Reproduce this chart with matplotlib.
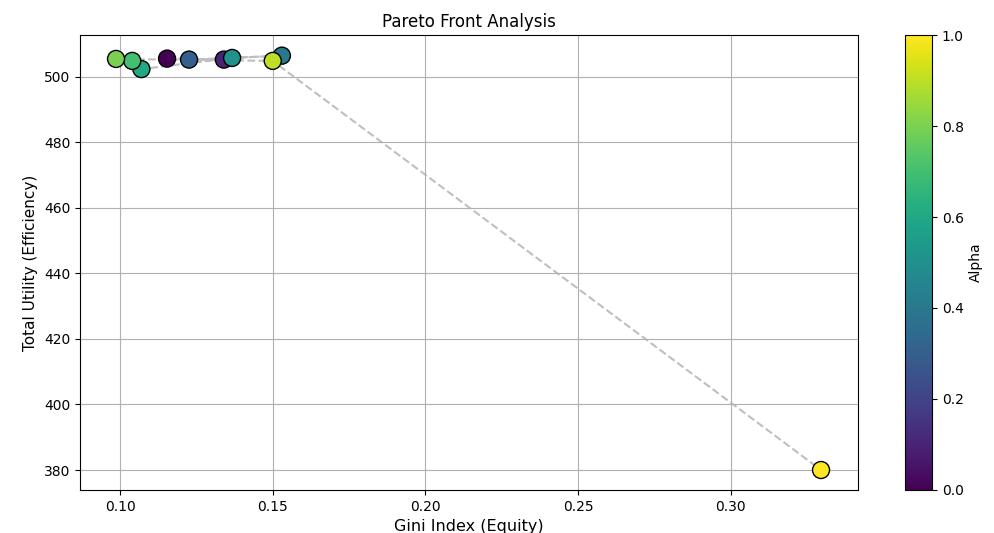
import matplotlib
matplotlib.use("Agg")
from matplotlib import pyplot as plt
import numpy as np

# values, ordered by alpha
alphas = [0.0, 0.1, 0.3, 0.4, 0.5, 0.6, 0.7, 0.8, 0.9, 1.0]
gini = [0.1154, 0.1340, 0.1226, 0.1530, 0.1367, 0.1070, 0.1040, 0.0987, 0.1500, 0.3295]
utility = [505.6, 505.3, 505.3, 506.5, 505.8, 502.4, 504.9, 505.5, 504.9, 380.0]

fig = plt.figure(figsize=(9.95, 5.33), dpi=100)
ax = fig.add_axes([0.0804, 0.0807, 0.7819, 0.8536])
cax = fig.add_axes([0.9095, 0.0807, 0.0272, 0.8536])

ax.plot(gini, utility, "--", color="gray", alpha=0.5, zorder=1)
sc = ax.scatter(gini, utility, c=alphas, cmap="viridis", vmin=0, vmax=1,
                s=150, edgecolors="black", linewidths=1, zorder=2)

ax.set_xlim(0.0869, 0.3416)
ax.set_ylim(373.9, 512.8)
ax.set_xticks([0.10, 0.15, 0.20, 0.25, 0.30])
ax.set_yticks([380, 400, 420, 440, 460, 480, 500])
ax.grid(True)
ax.set_xlabel("Gini Index (Equity)", fontsize=11.5)
ax.set_ylabel("Total Utility (Efficiency)", fontsize=11)
ax.set_title("Pareto Front Analysis", fontsize=12)

cb = fig.colorbar(sc, cax=cax)
cb.set_label("Alpha")

fig.savefig("out.png", dpi=100)
